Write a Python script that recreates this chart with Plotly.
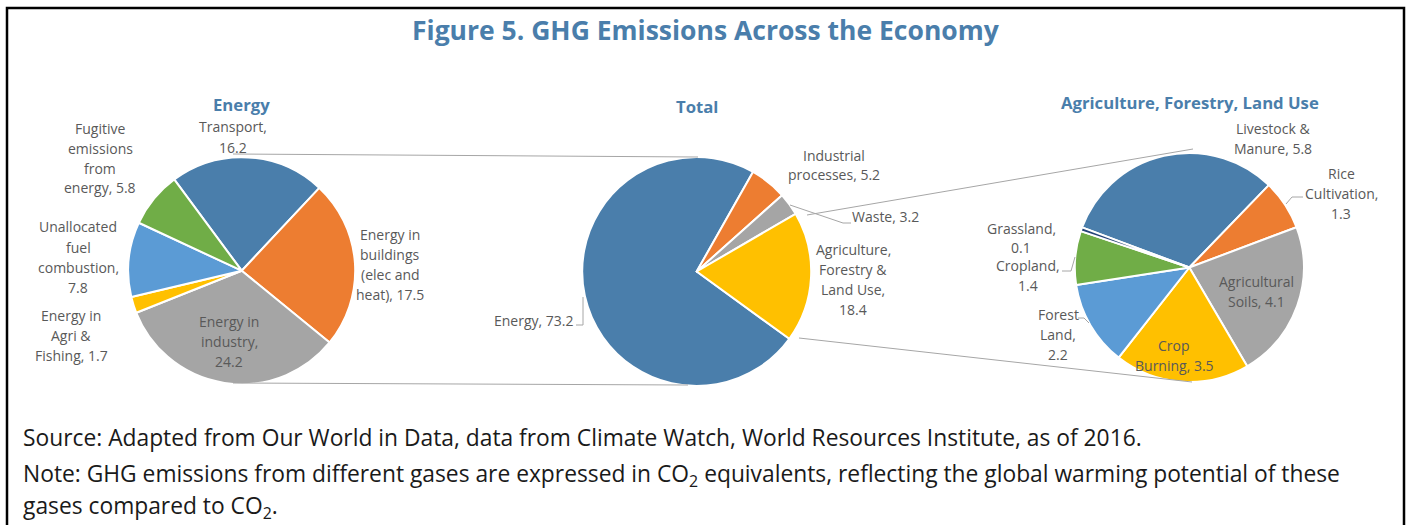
import plotly.graph_objects as go

W, H = 1409, 525

# ---------------- data ----------------
energy_labels = ["Transport", "Energy in buildings (elec and heat)", "Energy in industry",
                 "Energy in Agri & Fishing", "Unallocated fuel combustion",
                 "Fugitive emissions from energy"]
energy_values = [16.2, 17.5, 24.2, 1.7, 7.8, 5.8]

total_labels = ["Energy", "Industrial processes", "Waste", "Agriculture, Forestry & Land Use"]
total_values = [73.2, 5.2, 3.2, 18.4]

agri_labels = ["Livestock & Manure", "Rice Cultivation", "Agricultural Soils", "Crop Burning",
               "Forest Land", "Cropland", "Grassland"]
agri_values = [5.8, 1.3, 4.1, 3.5, 2.2, 1.4, 0.1]

# ---------------- styles ----------------
BLUE = "#4A7EAB"
ORANGE = "#ED7D31"
GRAY = "#A5A5A5"
YELLOW = "#FFC000"
LBLUE = "#5B9BD5"
GREEN = "#70AD47"
DBLUE = "#264478"
TXT = "#595959"
TITLE_BLUE = "#4A7EAB"
LINE = "#A6A6A6"
FONT = "Open Sans"

energy_colors = [BLUE, ORANGE, GRAY, YELLOW, LBLUE, GREEN]
total_colors = [BLUE, ORANGE, GRAY, YELLOW]
agri_colors = [BLUE, ORANGE, GRAY, YELLOW, LBLUE, GREEN, DBLUE]


def px(x):
    return x / W


def py(y):
    return 1 - y / H


def dom(cx, cy, r):
    return dict(x=[px(cx - r), px(cx + r)], y=[py(cy + r), py(cy - r)])


fig = go.Figure()
fig.add_trace(go.Pie(labels=energy_labels, values=energy_values, sort=False,
                     direction="clockwise", rotation=-36.5, textinfo="none",
                     marker=dict(colors=energy_colors, line=dict(color="white", width=2)),
                     domain=dom(241.7, 270.7, 113.5), hoverinfo="label+value"))
fig.add_trace(go.Pie(labels=total_labels, values=total_values, sort=False,
                     direction="clockwise", rotation=126, textinfo="none",
                     marker=dict(colors=total_colors, line=dict(color="white", width=2)),
                     domain=dom(696.7, 271.5, 114.5), hoverinfo="label+value"))
fig.add_trace(go.Pie(labels=agri_labels, values=agri_values, sort=False,
                     direction="clockwise", rotation=-69.5, textinfo="none",
                     marker=dict(colors=agri_colors, line=dict(color="white", width=2)),
                     domain=dom(1189.3, 267.5, 114.5), hoverinfo="label+value"))

# label layouts: line-broken templates and centre positions (pixels); values come from data
energy_text = [
    ("Transport,|{v}", 233, 137),
    ("Energy in|buildings|(elec and|heat), {v}", 390, 264),
    ("Energy in|industry,|{v}", 229, 341),
    ("Energy in|Agri &|Fishing, {v}", 71, 335),
    ("Unallocated|fuel|combustion,|{v}", 78, 257),
    ("Fugitive|emissions|from|energy, {v}", 100, 158),
]
total_text = [
    ("Energy, {v}", 534, 320),
    ("Industrial|processes, {v}", 834, 165),
    ("Waste, {v}", 885, 216),
    ("Agriculture,|Forestry &|Land Use,|{v}", 853, 279),
]
agri_text = [
    ("Livestock &|Manure, {v}", 1273, 138),
    ("Rice|Cultivation,|{v}", 1341, 193),
    ("Agricultural|Soils, {v}", 1256, 291),
    ("Crop|Burning, {v}", 1174, 355),
    ("Forest|Land,|{v}", 1058, 334),
    ("Cropland,|{v}", 1028, 275),
    ("Grassland,|{v}", 1021, 238),
]

LINE_GAP = 20
annotations = []
for specs, vals in ((energy_text, energy_values), (total_text, total_values), (agri_text, agri_values)):
    for (tmpl, x, y), v in zip(specs, vals):
        lines = tmpl.format(v=v).split("|")
        n = len(lines)
        for i, ln in enumerate(lines):
            yy = y + (i - (n - 1) / 2) * LINE_GAP
            annotations.append(dict(text=ln, x=px(x), y=py(yy), xref="paper", yref="paper",
                                    xanchor="center", yanchor="middle", showarrow=False,
                                    font=dict(family=FONT, size=14, color=TXT)))

# titles
for t, x, y in (("Energy", 241, 105), ("Total", 697, 106), ("Agriculture, Forestry, Land Use", 1190, 102)):
    annotations.append(dict(text=f"<b>{t}</b>", x=px(x), y=py(y), xref="paper", yref="paper",
                            xanchor="center", yanchor="middle", showarrow=False,
                            font=dict(family=FONT, size=16.7, color=TITLE_BLUE)))
annotations.append(dict(text="<b>Figure 5. GHG Emissions Across the Economy</b>", x=px(706), y=py(30),
                        xref="paper", yref="paper", xanchor="center", yanchor="middle", showarrow=False,
                        font=dict(family=FONT, size=26.5, color=TITLE_BLUE)))

notes = [
    ("Source: Adapted from Our World in Data, data from Climate Watch, World Resources Institute, as of 2016.", 437),
    ("Note: GHG emissions from different gases are expressed in CO<sub>2</sub> equivalents, reflecting the global warming potential of these", 475),
    ("gases compared to CO<sub>2</sub>.", 507),
]
for t, y in notes:
    annotations.append(dict(text=t, x=px(21), y=py(y), xref="paper", yref="paper",
                            xanchor="left", yanchor="middle", showarrow=False, align="left",
                            font=dict(family=FONT, size=22.8, color="#1A1A1A")))

# connector and leader lines (pixel coords)
segments = [
    [(233, 154), (698, 157)],
    [(233, 383), (688, 385)],
    [(807, 215), (1193, 149)],
    [(799, 338), (1192, 382)],
    [(576, 325), (583, 325), (583, 297)],
    [(790, 205), (843, 223), (851, 223)],
    [(1286, 204), (1292, 197), (1303, 197)],
    [(1062, 271), (1071, 271), (1075, 257)],
    [(1078, 318), (1084, 318), (1089, 323)],
]
shapes = []
for seg in segments:
    path = "M " + " L ".join(f"{px(x)},{py(y)}" for x, y in seg)
    shapes.append(dict(type="path", path=path, xref="paper", yref="paper",
                       line=dict(color=LINE, width=1)))

# frame
frame = [(7, 530), (7, 8), (1404, 8), (1404, 530)]
path = "M " + " L ".join(f"{px(x)},{py(y)}" for x, y in frame)
shapes.append(dict(type="path", path=path, xref="paper", yref="paper",
                   line=dict(color="black", width=2.5)))

fig.update_layout(width=W, height=H, margin=dict(l=0, r=0, t=0, b=0), showlegend=False,
                  paper_bgcolor="white", plot_bgcolor="white",
                  annotations=annotations, shapes=shapes, font=dict(family=FONT))

fig.write_html("out.html", config={"displayModeBar": False},
               post_script="document.body.style.margin='0';")
